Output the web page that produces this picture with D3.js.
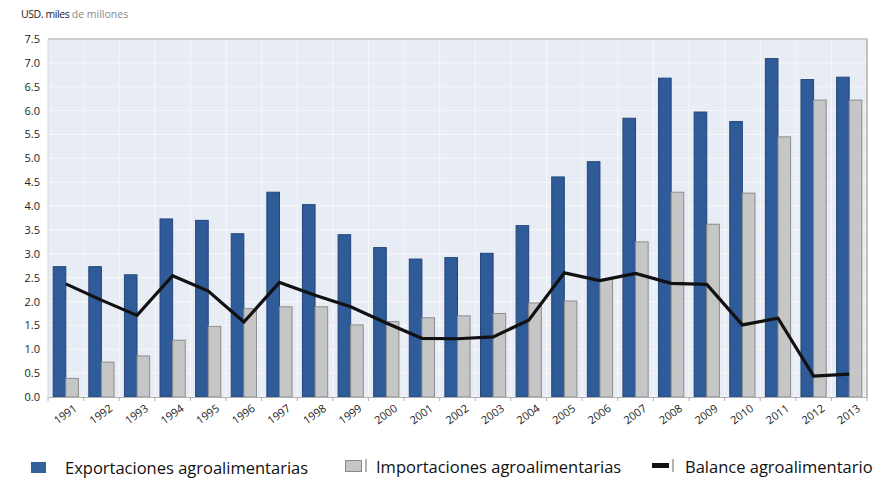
<!DOCTYPE html>
<html><head><meta charset="utf-8">
<script src="https://cdn.jsdelivr.net/npm/d3@7"></script>
<style>body{margin:0;background:#fff;overflow:hidden}svg{display:block}</style>
</head><body>
<script>
const years = ["1991","1992","1993","1994","1995","1996","1997","1998","1999","2000","2001","2002","2003","2004","2005","2006","2007","2008","2009","2010","2011","2012","2013"];
const exportaciones = [2.73,2.73,2.56,3.73,3.70,3.42,4.29,4.03,3.40,3.13,2.89,2.92,3.01,3.59,4.61,4.93,5.84,6.68,5.97,5.77,7.09,6.65,6.70];
const importaciones = [0.39,0.73,0.86,1.19,1.48,1.85,1.89,1.89,1.51,1.58,1.66,1.70,1.75,1.97,2.01,2.47,3.25,4.29,3.62,4.27,5.45,6.22,6.22];
const balance = [2.37,2.03,1.71,2.54,2.22,1.57,2.40,2.13,1.89,1.55,1.23,1.22,1.26,1.61,2.60,2.44,2.59,2.38,2.36,1.51,1.65,0.44,0.48];
const yTicks = [0,0.5,1,1.5,2,2.5,3,3.5,4,4.5,5,5.5,6,6.5,7,7.5];

const W=875,H=479;
const m={l:48,r:8,t:39,b:82};
const svg=d3.select("body").append("svg").attr("width",W).attr("height",H);
const x=d3.scaleBand().domain(years).range([m.l,W-m.r]);
const y=d3.scaleLinear().domain([0,7.5]).range([H-m.b,m.t]);
const font="'Open Sans', 'DejaVu Sans', sans-serif";

svg.append("rect").attr("x",m.l).attr("y",m.t).attr("width",W-m.r-m.l).attr("height",H-m.b-m.t).attr("fill","#e8ecf4");
// grid
svg.append("g").selectAll("line").data(yTicks).join("line")
  .attr("x1",m.l).attr("x2",W-m.r).attr("y1",d=>y(d)).attr("y2",d=>y(d))
  .attr("stroke","#f6f8fb").attr("stroke-width",1);
svg.append("g").selectAll("line").data(years.slice(1)).join("line")
  .attr("x1",d=>x(d)).attr("x2",d=>x(d)).attr("y1",m.t).attr("y2",H-m.b)
  .attr("stroke","#f6f8fb").attr("stroke-width",1);

const pad=5.2, bw=(x.bandwidth()-2*pad)/2;
svg.append("g").selectAll("rect").data(years).join("rect")
  .attr("x",d=>x(d)+pad).attr("width",bw)
  .attr("y",(d,i)=>y(exportaciones[i])).attr("height",(d,i)=>y(0)-y(exportaciones[i]))
  .attr("fill","#2f5b98").attr("stroke","#23467a").attr("stroke-width",1);
svg.append("g").selectAll("rect").data(years).join("rect")
  .attr("x",d=>x(d)+pad+bw).attr("width",bw)
  .attr("y",(d,i)=>y(importaciones[i])).attr("height",(d,i)=>y(0)-y(importaciones[i]))
  .attr("fill","#c6c6c6").attr("stroke","#8c8c8c").attr("stroke-width",1);

const line=d3.line().x((d,i)=>x(years[i])+x.bandwidth()/2).y(d=>y(d));
svg.append("path").datum(balance).attr("d",line).attr("fill","none")
  .attr("stroke","#111").attr("stroke-width",3.2).attr("stroke-linejoin","miter");

// frame
svg.append("path").attr("d",`M${m.l},${m.t}H${W-m.r}V${H-m.b}`).attr("fill","none").attr("stroke","#a0a0a0").attr("stroke-width",1.2);
svg.append("line").attr("x1",m.l).attr("x2",m.l).attr("y1",m.t).attr("y2",H-m.b).attr("stroke","#d0d4dc");

// y axis
const ya=svg.append("g").attr("transform",`translate(${m.l},0)`)
  .call(d3.axisLeft(y).tickValues(yTicks).tickFormat(d3.format(".1f")).tickSize(0).tickPadding(8));
ya.select(".domain").remove();
ya.selectAll("text").attr("font-family",font).attr("font-size",11).attr("fill","#222");

// x axis
const xa=svg.append("g").attr("transform",`translate(0,${H-m.b})`)
  .call(d3.axisBottom(x).tickSize(0).tickFormat(""));
xa.select(".domain").attr("stroke","#b0b0b0");
svg.append("g").selectAll("line").data(years.concat(["end"])).join("line")
  .attr("x1",(d,i)=>m.l+i*x.step()).attr("x2",(d,i)=>m.l+i*x.step())
  .attr("y1",H-m.b).attr("y2",H-m.b+4).attr("stroke","#b0b0b0");
svg.append("g").selectAll("text").data(years).join("text")
  .attr("transform",d=>`translate(${x(d)+x.bandwidth()/2+12},${H-m.b+13}) rotate(-36)`)
  .attr("text-anchor","end").attr("font-family",font).attr("font-size",11).attr("fill","#222").text(d=>d);

// axis title
const t=svg.append("text").attr("x",21).attr("y",18).attr("font-family",font).attr("font-size",10.5);
t.append("tspan").attr("fill","#222").attr("letter-spacing",-0.4).text("USD. miles ");
t.append("tspan").attr("fill","#888").text("de millones");

// legend
const lg=svg.append("g").attr("font-family",font).attr("font-size",16.5).attr("fill","#111");
lg.append("rect").attr("x",31).attr("y",462).attr("width",15).attr("height",11).attr("fill","#34609c");
lg.append("text").attr("x",65).attr("y",474).text("Exportaciones agroalimentarias");
lg.append("rect").attr("x",345.5).attr("y",460.5).attr("width",16).attr("height",11).attr("fill","#c6c6c6").attr("stroke","#888");
lg.append("line").attr("x1",366).attr("x2",366).attr("y1",459).attr("y2",472).attr("stroke","#666");
lg.append("text").attr("x",376).attr("y",473).text("Importaciones agroalimentarias");
lg.append("rect").attr("x",652).attr("y",463).attr("width",17).attr("height",5).attr("fill","#111");
lg.append("line").attr("x1",673).attr("x2",673).attr("y1",459).attr("y2",472).attr("stroke","#666");
lg.append("text").attr("x",685).attr("y",473).text("Balance agroalimentario");
</script>
</body></html>
